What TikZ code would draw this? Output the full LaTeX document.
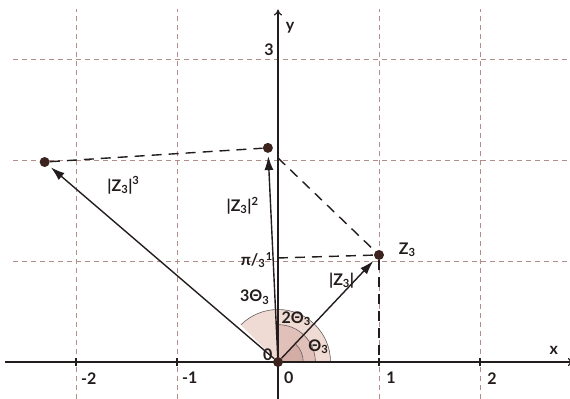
\documentclass[tikz,border=0pt]{standalone}
\usepackage{fontspec}
\setmainfont{Lato}
\usetikzlibrary{arrows.meta}
\definecolor{gridc}{RGB}{178,142,138}
\definecolor{ink}{RGB}{35,28,28}
\definecolor{pinkA}{RGB}{240,218,212}
\definecolor{pinkB}{RGB}{226,192,186}
\definecolor{pinkC}{RGB}{212,172,166}
\definecolor{dotc}{RGB}{60,35,30}
\tikzset{
  gridline/.style={draw=gridc, line width=0.9pt, dash pattern=on 5pt off 4pt},
  axisline/.style={draw=ink, line width=1.2pt},
  vecline/.style={draw=ink, line width=1.4pt, -{Latex[length=14pt,width=9pt]}, shorten >=3pt},
  blkdash/.style={draw=ink, line width=1.4pt, dash pattern=on 10pt off 7pt},
  arcline/.style={draw=ink!70, line width=0.6pt},
  ptdot/.style={circle, fill=dotc, inner sep=0pt, minimum size=10pt},
  lbl/.style={text=ink, inner sep=0pt}
}
\begin{document}
\begin{tikzpicture}[x=101pt,y=101pt, font=\fontsize{16}{18}\selectfont\bfseries]
\useasboundingbox[fill=white] (-2.752,-0.366) rectangle (2.891,3.584);
% grid
\foreach \k in {-2,-1,1,2} \draw[gridline] (\k,-0.37) -- (\k,3.49);
\foreach \k in {1,2,3} \draw[gridline] (-2.62,\k) -- (2.9,\k);
% angle sectors
\fill[pinkA] (0,0) -- (0.52,0) arc (0:135:0.52) -- cycle;
\fill[pinkB] (0,0) -- (0.37,0) arc (0:90:0.37) -- cycle;
\fill[pinkC] (0,0) -- (0.25,0) arc (0:45:0.25) -- cycle;
\draw[arcline] (0.52,0) arc (0:135:0.52);
\draw[arcline] (0.37,0) arc (0:90:0.37);
\draw[arcline] (0.25,0) arc (0:45:0.25);
% axes
\coordinate (xs) at (-2.7,0);
\coordinate (xe) at (2.93,0);
\coordinate (ys) at (0,-0.37);
\coordinate (ye) at (0,3.49);
\draw[axisline, -{To[length=6pt,width=8pt]}] (xs) -- (xe);
\draw[axisline, -{To[length=6pt,width=8pt]}] (ys) -- (ye);
\foreach \k in {-2,-1,1,2} \draw[axisline] (\k,-0.04) -- (\k,0.04);
% points
\node[ptdot] (O) at (0,0) {};
\node[ptdot] (Z1) at (1.0,1.06) {};
\node[ptdot] (Z2) at (-0.10,2.12) {};
\node[ptdot] (Z3) at (-2.31,1.98) {};
\coordinate (A2) at (0,2.02);
\coordinate (A1) at (0,1.03);
\coordinate (B1) at (1.0,0);
% dashed construction lines
\draw[blkdash] (Z3) -- (Z2);
\draw[blkdash] (A2) -- (Z1);
\draw[blkdash] (A1) -- (Z1);
\draw[blkdash] (Z1) -- (B1);
% vectors
\draw[vecline] (O) -- (Z1);
\draw[vecline] (O) -- (Z2);
\draw[vecline] (O) -- (Z3);
% labels
\node[lbl] (ly) at (0.12,3.31) {y};
\node[lbl] (lx) at (2.73,0.12) {x};
\node[lbl] (l3) at (-0.09,3.09) {3};
\node[lbl, anchor=west] (tm2) at (-1.95,-0.16) {-2};
\node[lbl, anchor=west] (tm1) at (-0.95,-0.16) {-1};
\node[lbl, anchor=west] (t0) at (0.06,-0.16) {0};
\node[lbl, anchor=west] (t1) at (1.07,-0.16) {1};
\node[lbl, anchor=west] (t2) at (2.07,-0.16) {2};
\node[lbl] (lo) at (-0.10,0.07) {0};
\node[lbl] (lz) at (1.28,1.11) {Z\textsubscript{3}};
\node[lbl] (lm1) at (0.63,0.81) {|Z\textsubscript{3}|};
\node[lbl] (lm2) at (-0.35,1.55) {|Z\textsubscript{3}|\textsuperscript{2}};
\node[lbl] (lm3) at (-1.53,1.75) {|Z\textsubscript{3}|\textsuperscript{3}};
\node[lbl, anchor=east] (lpi) at (-0.055,1.01) {π/\textsubscript{3}\kern0.5pt\raisebox{5pt}{\fontsize{11}{13}\selectfont\bfseries 1}};
\node[lbl] (a3) at (-0.23,0.64) {3Θ\textsubscript{3}};
\node[lbl] (a2) at (0.18,0.43) {2Θ\textsubscript{3}};
\node[lbl] (a1) at (0.40,0.15) {Θ\textsubscript{3}};
\end{tikzpicture}
\end{document}
